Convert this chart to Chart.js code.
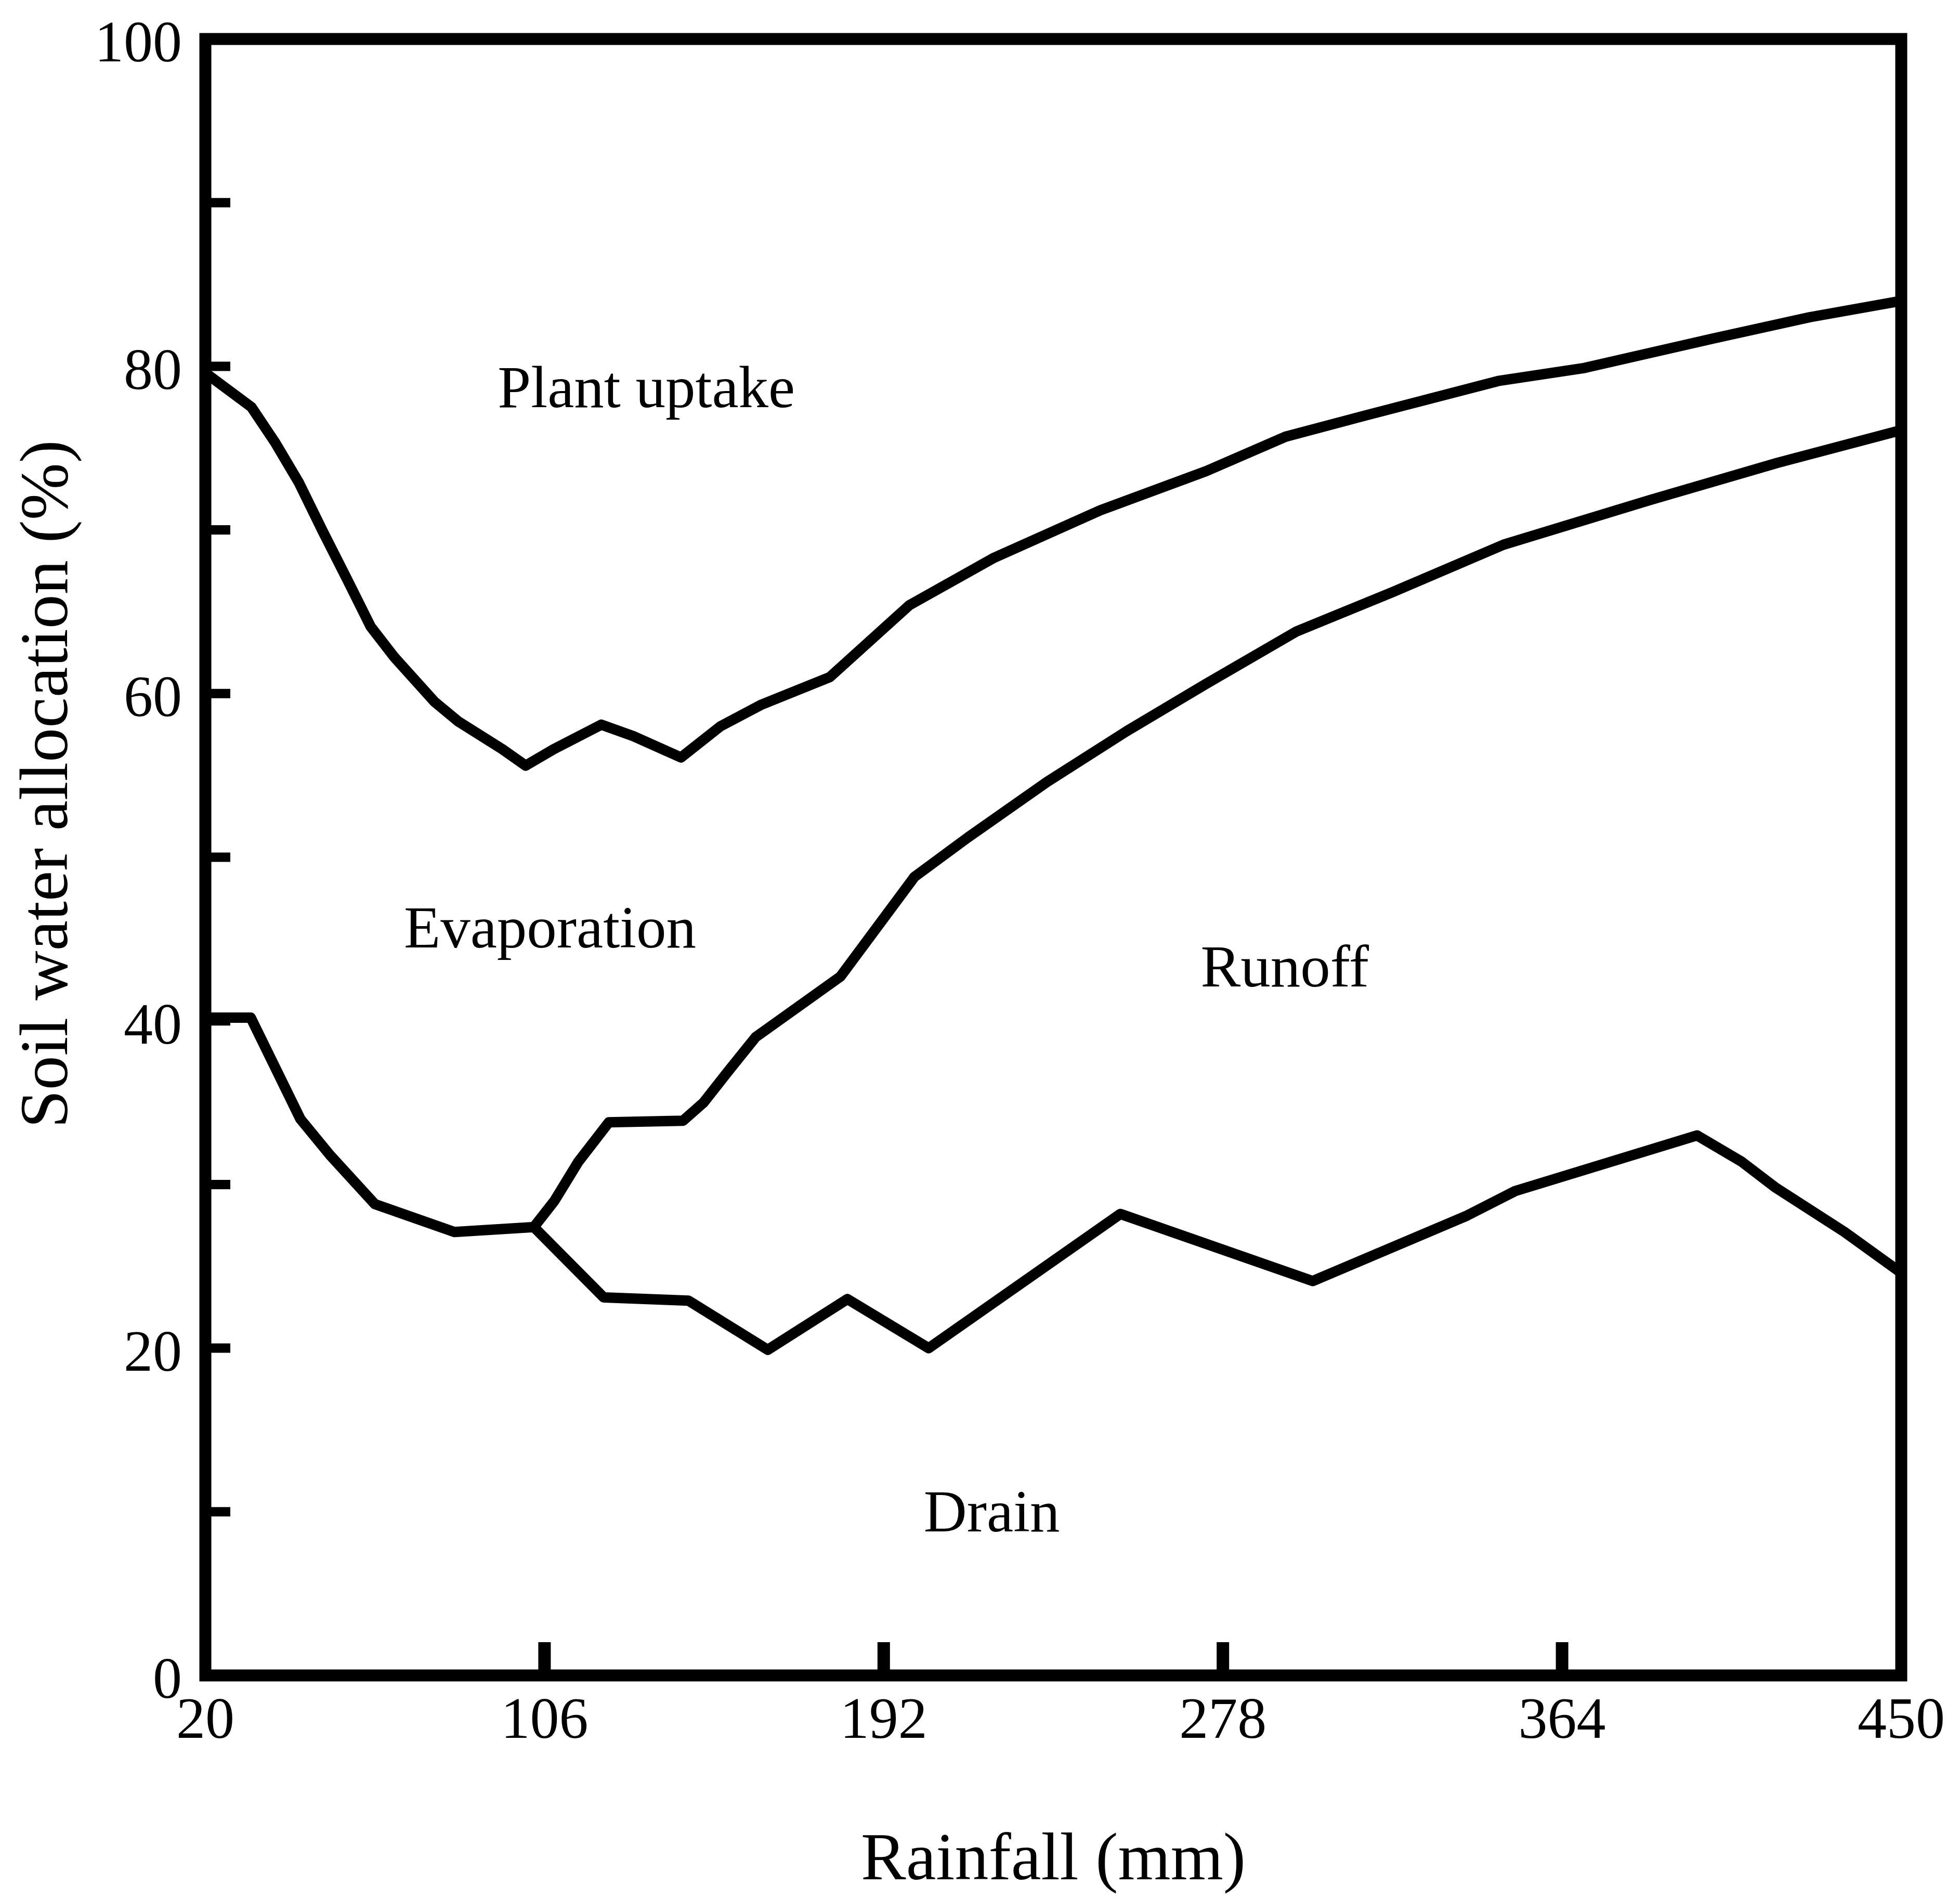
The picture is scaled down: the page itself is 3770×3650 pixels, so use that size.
<!DOCTYPE html>
<html>
<head>
<meta charset="utf-8">
<title>Soil water allocation</title>
<script src="https://cdn.jsdelivr.net/npm/chart.js@4.4.1/dist/chart.umd.min.js"></script>
<style>
  html, body { margin: 0; padding: 0; background: #fff; }
  canvas { display: block; }
</style>
</head>
<body>
<canvas id="allocChart" width="3770" height="3650"></canvas>
<script>
// rainfall (mm) against share of soil water (%) along each boundary
let uptakeRain = [20, 31.7, 37.8, 43.7, 49.8, 55.9, 61.9, 68.0, 78.1, 84.1, 95.3, 101.2, 108.3, 120.4, 128.5, 140.6, 150.6, 160.8, 178.3, 198.5, 220.0, 246.9, 273.8, 293.9, 314.2, 347.8, 369.7, 402.3, 426.8, 450];
let uptakePct = [79.6, 77.5, 75.3, 72.9, 69.9, 67.0, 64.1, 62.2, 59.5, 58.3, 56.6, 55.6, 56.6, 58.1, 57.4, 56.1, 58.0, 59.3, 61.0, 65.4, 68.3, 71.2, 73.6, 75.7, 77.0, 79.1, 79.9, 81.7, 83.0, 84.0];

let runoffRain = [103.3, 108.5, 114.6, 122.3, 141.1, 146.3, 152.5, 159.5, 181.0, 199.8, 213.3, 233.4, 253.6, 273.8, 296.7, 321.0, 349.2, 385.9, 418.6, 450];
let runoffPct = [27.4, 29.0, 31.4, 33.8, 33.9, 35.0, 36.9, 39.0, 42.7, 48.8, 51.2, 54.6, 57.7, 60.6, 63.8, 66.2, 69.1, 71.8, 74.1, 76.1];

let drainRain = [20, 31.5, 37.8, 44.1, 51.6, 63.0, 83.1, 103.3, 121.0, 142.5, 162.6, 182.8, 203.4, 252.0, 300.8, 339.9, 352.1, 398.2, 409.5, 418.2, 435.6, 450];
let drainPct = [40.2, 40.2, 37.1, 34.0, 31.8, 28.8, 27.1, 27.4, 23.1, 22.9, 19.9, 23.0, 20.0, 28.2, 24.1, 28.1, 29.6, 33.0, 31.4, 29.8, 27.1, 24.6];

let rainTicks = [20, 106, 192, 278, 364, 450];
let pctTicks = [0, 20, 40, 60, 80, 100];

// names of the areas between the curves
let regionNames = ['Plant uptake', 'Evaporation', 'Runoff', 'Drain'];
let regionRain = [131.8, 107.4, 293.7, 219.4];
let regionPct = [77.5, 44.5, 42.1, 8.8];

const serif = '"Liberation Serif", "DejaVu Serif", serif';
Chart.defaults.font.family = serif;
Chart.defaults.color = '#000';

function pairs(xs, ys) {
    return xs.map((v, i) => ({ x: v, y: ys[i] }));
}

function curve(xs, ys) {
    return {
        data: pairs(xs, ys),
        borderColor: '#000',
        borderWidth: 20,
        borderJoinStyle: 'round',
        pointRadius: 0,
        tension: 0,
        fill: false
    };
}

// box round the plot, inward ticks, area names and the y title
const decorations = {
    id: 'decorations',
    afterDatasetsDraw(chart) {
        const { ctx, chartArea: a, scales: { x, y } } = chart;
        ctx.save();
        ctx.strokeStyle = '#000';
        ctx.lineWidth = 23;
        ctx.strokeRect(a.left, a.top, a.right - a.left, a.bottom - a.top);

        ctx.lineWidth = 18;
        ctx.beginPath();
        y.ticks.forEach(t => {
            if (t.value <= 0 || t.value >= 100) return;
            let py = y.getPixelForValue(t.value);
            ctx.moveTo(a.left, py);
            ctx.lineTo(a.left + 48, py);
        });
        ctx.stroke();

        ctx.lineWidth = 24;
        ctx.beginPath();
        x.ticks.forEach(t => {
            if (t.value <= 20 || t.value >= 450) return;
            let px = x.getPixelForValue(t.value);
            ctx.moveTo(px, a.bottom);
            ctx.lineTo(px, a.bottom - 64);
        });
        ctx.stroke();

        ctx.fillStyle = '#000';
        ctx.font = '115px ' + serif;
        ctx.textAlign = 'center';
        ctx.textBaseline = 'alphabetic';
        regionNames.forEach((name, i) => {
            ctx.fillText(name, x.getPixelForValue(regionRain[i]), y.getPixelForValue(regionPct[i]));
        });

        ctx.translate(94, 1508);
        ctx.rotate(-Math.PI / 2);
        ctx.font = '132px ' + serif;
        ctx.textBaseline = 'middle';
        ctx.fillText('Soil water allocation (%)', 0, 0);
        ctx.restore();
    }
};

new Chart(document.getElementById('allocChart'), {
    type: 'line',
    data: {
        datasets: [
            curve(uptakeRain, uptakePct),
            curve(runoffRain, runoffPct),
            curve(drainRain, drainPct)
        ]
    },
    options: {
        responsive: false,
        devicePixelRatio: 1,
        animation: false,
        layout: {
            padding: { left: 0, top: 75, right: 113, bottom: 0 }
        },
        plugins: {
            legend: { display: false },
            tooltip: { enabled: false }
        },
        scales: {
            x: {
                type: 'linear',
                min: 20,
                max: 450,
                grid: { display: false, drawTicks: false },
                border: { display: false },
                afterBuildTicks: s => { s.ticks = rainTicks.map(v => ({ value: v })); },
                afterFit: s => {
                    s.height = 428;
                    s.paddingLeft = 0;
                    s.paddingRight = 0;
                },
                ticks: {
                    autoSkip: false,
                    maxRotation: 0,
                    padding: 23,
                    font: { size: 112 }
                },
                title: {
                    display: true,
                    text: 'Rainfall (mm)',
                    font: { size: 130, lineHeight: 1 },
                    padding: { top: 0, bottom: 5 }
                }
            },
            y: {
                min: 0,
                max: 100,
                grid: { display: false, drawTicks: false },
                border: { display: false },
                afterFit: s => {
                    s.width = 395;
                    s.paddingTop = 0;
                    s.paddingBottom = 0;
                },
                ticks: {
                    stepSize: 10,
                    padding: 45,
                    labelOffset: 14,
                    font: { size: 112 },
                    callback: v => pctTicks.includes(v) ? v : ''
                }
            }
        }
    },
    plugins: [decorations]
});
</script>
</body>
</html>
